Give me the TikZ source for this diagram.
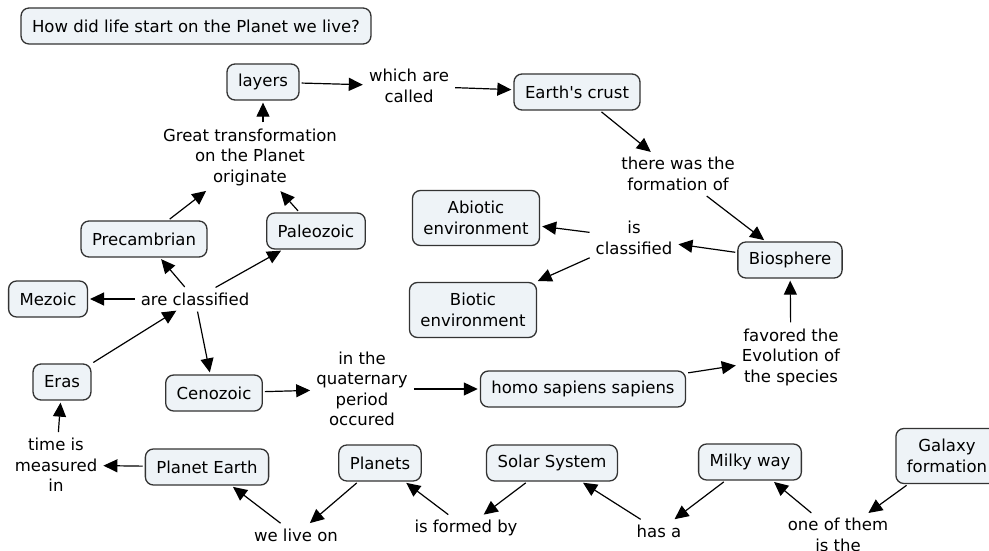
\documentclass[tikz,border=0pt]{standalone}
\usepackage{fontspec}
\setmainfont{DejaVu Sans}[Ligatures=TeXOff]
\usetikzlibrary{arrows.meta}
\definecolor{boxfill}{HTML}{EEF3F7}
\definecolor{boxline}{HTML}{333333}
\begin{document}
\begin{tikzpicture}[x=1pt,y=-1pt,
  every node/.style={font=\fontsize{16.5}{20.5}\selectfont, align=center},
  concept/.style={draw=boxline, fill=boxfill, line width=1.3pt, rounded corners=8pt, inner xsep=11pt, inner ysep=4pt, minimum height=36pt},
  tall/.style={minimum height=55pt},
  lbl/.style={inner sep=4pt},
  arr/.style={-{Triangle[length=14pt,width=13pt]}, line width=1.2pt, shorten <=2pt, shorten >=2pt}]
\useasboundingbox (0,0) rectangle (989,551);
\clip (0,0) rectangle (989,551);
\fill[white] (0,0) rectangle (989,551);

\node[concept] (q) at (196,26) {How did life start on the Planet we live?};
\node[concept] (layers) at (263,82) {layers};
\node[lbl] (which) at (409,86) {which are\\called};
\node[concept] (crust) at (577,92) {Earth's crust};
\node[lbl] (formation) at (678,174) {there was the\\formation of};
\node[concept] (bio) at (790,260) {Biosphere};
\node[lbl] (iscl) at (634,238) {is\\classified};
\node[concept,tall] (abiotic) at (476,218) {Abiotic\\environment};
\node[concept,tall] (biotic) at (473,310) {Biotic\\environment};
\node[lbl] (favored) at (791,357) {favored the\\Evolution of\\the species};
\node[concept] (homo) at (583,389) {homo sapiens sapiens};
\node[lbl] (quat) at (362,389) {in the\\quaternary\\period\\occured};
\node[concept] (ceno) at (214,393) {Cenozoic};
\node[lbl] (arecl) at (195,299) {are classified};
\node[concept] (pre) at (144,239) {Precambrian};
\node[concept] (paleo) at (316,231) {Paleozoic};
\node[lbl] (great) at (250,157) {Great transformation\\on the Planet\\originate};
\node[concept] (mezo) at (48,299) {Mezoic};
\node[concept] (eras) at (62,382) {Eras};
\node[lbl] (time) at (56,465) {time is\\measured\\in};
\node[concept] (earth) at (207,467) {Planet Earth};
\node[concept] (planets) at (380,463) {Planets};
\node[lbl] (live) at (296,535) {we live on};
\node[concept] (solar) at (552,463) {Solar System};
\node[lbl] (formed) at (466,528) {is formed by};
\node[concept] (milky) at (750,462) {Milky way};
\node[lbl] (hasa) at (659,531) {has a};
\node[concept,tall] (galaxy) at (947,456) {Galaxy\\formation};
\node[lbl] (oneof) at (838,535) {one of them\\is the};

\draw[arr] (layers) -- (which);
\draw[arr] (which) -- (crust);
\draw[arr] (crust) -- (formation);
\draw[arr] (formation) -- (bio);
\draw[arr] (bio) -- (iscl);
\draw[arr] (iscl) -- (abiotic);
\draw[arr] (iscl) -- (biotic);
\draw[arr] (homo) -- (favored);
\draw[arr] (favored) -- (bio);
\draw[arr] (ceno) -- (quat);
\draw[arr] (quat) -- (homo);
\draw[arr] (arecl) -- (pre);
\draw[arr] (arecl) -- (paleo);
\draw[arr] (arecl) -- (mezo);
\draw[arr] (arecl) -- (ceno);
\draw[arr] (eras) -- (arecl);
\draw[arr] (pre) -- (great);
\draw[arr] (paleo) -- (great);
\draw[arr] (great.north -| layers) -- (layers);
\draw[arr] (earth) -- (time);
\draw[arr] (time) -- (eras);
\draw[arr] (planets) -- (live);
\draw[arr] (live) -- (earth);
\draw[arr] (formed) -- (planets);
\draw[arr] (solar) -- (formed);
\draw[arr] (hasa) -- (solar);
\draw[arr] (milky) -- (hasa);
\draw[arr] (oneof) -- (milky);
\draw[arr] (galaxy) -- (oneof);
\end{tikzpicture}
\end{document}
